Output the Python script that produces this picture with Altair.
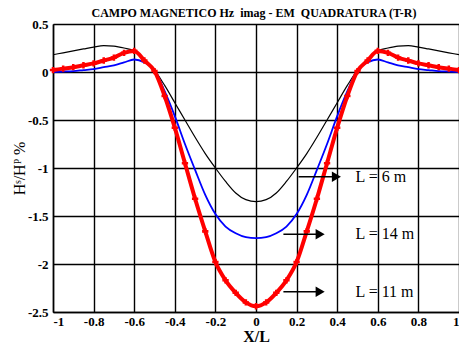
import altair as alt
import pandas as pd

x_vals = [-1.0, -0.95, -0.9, -0.85, -0.8, -0.75, -0.7, -0.65, -0.6, -0.55, -0.5,
          -0.45, -0.4, -0.35, -0.3, -0.25, -0.2, -0.15, -0.1, -0.05, 0.0,
          0.05, 0.1, 0.15, 0.2, 0.25, 0.3, 0.35, 0.4, 0.45, 0.5,
          0.55, 0.6, 0.65, 0.7, 0.75, 0.8, 0.85, 0.9, 0.95, 1.0]

# L = 6 m (black)
l6 = [0.18, 0.20, 0.22, 0.24, 0.26, 0.275, 0.27, 0.25, 0.22, 0.12, 0.02,
      -0.14, -0.32, -0.50, -0.68, -0.85, -1.00, -1.14, -1.26, -1.33, -1.35,
      -1.33, -1.26, -1.14, -1.00, -0.85, -0.68, -0.50, -0.32, -0.14, 0.02,
      0.12, 0.22, 0.25, 0.27, 0.275, 0.26, 0.24, 0.22, 0.20, 0.18]

# L = 14 m (blue)
l14 = [0.0, 0.005, 0.01, 0.02, 0.03, 0.05, 0.07, 0.10, 0.13, 0.10, 0.02,
       -0.20, -0.46, -0.75, -1.02, -1.28, -1.48, -1.61, -1.68, -1.72, -1.73,
       -1.72, -1.68, -1.61, -1.48, -1.28, -1.02, -0.75, -0.46, -0.20, 0.02,
       0.10, 0.13, 0.10, 0.07, 0.05, 0.03, 0.02, 0.01, 0.005, 0.0]

# L = 11 m (red)
l11 = [0.02, 0.035, 0.05, 0.07, 0.09, 0.12, 0.15, 0.20, 0.22, 0.12, 0.01,
       -0.25, -0.58, -0.95, -1.32, -1.66, -1.98, -2.17, -2.30, -2.40, -2.44,
       -2.40, -2.30, -2.17, -1.98, -1.66, -1.32, -0.95, -0.58, -0.25, 0.01,
       0.12, 0.22, 0.20, 0.15, 0.12, 0.09, 0.07, 0.05, 0.035, 0.02]

x_ticks = [-1, -0.8, -0.6, -0.4, -0.2, 0, 0.2, 0.4, 0.6, 0.8, 1]
y_ticks = [-2.5, -2, -1.5, -1, -0.5, 0, 0.5]

labels = ["L = 6 m", "L = 14 m", "L = 11 m"]
label_y = [-1.09, -1.69, -2.29]
arrow_x1 = [0.21, 0.135, 0.135]
arrow_x2 = [0.42, 0.34, 0.34]
label_x = [0.49, 0.49, 0.49]

title_text = "CAMPO MAGNETICO Hz\u00a0 imag - EM\u00a0 QUADRATURA (T-R)"

FONT = "Liberation Serif"

df6 = pd.DataFrame({"x": x_vals, "y": l6})
df14 = pd.DataFrame({"x": x_vals, "y": l14})
df11 = pd.DataFrame({"x": x_vals, "y": l11})

xs = alt.Scale(domain=[-1, 1], nice=False, zero=False)
ys = alt.Scale(domain=[-2.5, 0.5], nice=False, zero=False)

xaxis = alt.Axis(values=x_ticks, labelExpr="'' + datum.value", title="X/L",
                 grid=True, gridColor="black", gridWidth=1.4, gridOpacity=1,
                 ticks=False, domainColor="black", domainWidth=1.5,
                 labelFont=FONT, labelFontSize=13, labelFontWeight="bold",
                 labelColor="black", labelPadding=3,
                 titleFont=FONT, titleFontSize=16, titleFontWeight="bold",
                 titleColor="black", titlePadding=0)
yaxis = alt.Axis(values=y_ticks, labelExpr="'' + datum.value", title="Hˢ/Hᴾ %",
                 grid=True, gridColor="black", gridWidth=1.4, gridOpacity=1,
                 ticks=False, domainColor="black", domainWidth=1.5,
                 labelFont=FONT, labelFontSize=13, labelFontWeight="bold",
                 labelColor="black", labelPadding=5,
                 titleFont=FONT, titleFontSize=16, titleFontWeight="normal",
                 titleColor="black", titlePadding=0)

line6 = alt.Chart(df6).mark_line(color="black", strokeWidth=1.2, interpolate="monotone").encode(
    x=alt.X("x:Q", scale=xs, axis=xaxis), y=alt.Y("y:Q", scale=ys, axis=yaxis))
line14 = alt.Chart(df14).mark_line(color="#0000ff", strokeWidth=1.8, interpolate="monotone").encode(
    x=alt.X("x:Q", scale=xs), y=alt.Y("y:Q", scale=ys))
line11 = alt.Chart(df11).mark_line(color="#ff0000", strokeWidth=4, interpolate="monotone").encode(
    x=alt.X("x:Q", scale=xs), y=alt.Y("y:Q", scale=ys))
pts11 = alt.Chart(df11).mark_point(shape="cross", filled=True, color="#ff0000", size=40, opacity=1).encode(
    x=alt.X("x:Q", scale=xs), y=alt.Y("y:Q", scale=ys))

ann = pd.DataFrame({"label": labels, "y": label_y, "x1": arrow_x1, "x2": arrow_x2, "tx": label_x})
ann["hx"] = ann["x2"] - 0.024

rules = alt.Chart(ann).mark_rule(color="black", strokeWidth=1.5).encode(
    x=alt.X("x1:Q", scale=xs), x2="hx:Q", y=alt.Y("y:Q", scale=ys))
heads = alt.Chart(ann).mark_point(shape="triangle-right", filled=True, color="black", size=110, opacity=1).encode(
    x=alt.X("hx:Q", scale=xs), y=alt.Y("y:Q", scale=ys))
texts = alt.Chart(ann).mark_text(align="left", baseline="middle", font=FONT, fontSize=16, color="black").encode(
    x=alt.X("tx:Q", scale=xs), y=alt.Y("y:Q", scale=ys), text="label:N")

title_mark = alt.Chart(pd.DataFrame({"t": [title_text]})).mark_text(
    align="center", baseline="bottom", font=FONT, fontSize=12, fontWeight="bold", color="black"
).encode(x=alt.value(201), y=alt.value(-4), text="t:N")

chart = alt.layer(line6, line14, line11, pts11, rules, heads, texts, title_mark).properties(
    width=406, height=288,
    autosize=alt.AutoSizeParams(type="none"),
    padding={"left": 45, "top": 16, "right": 0, "bottom": 31},
).configure_view(stroke=None).configure(background="white")

chart.save("out.html", embed_options={"renderer": "svg", "actions": False})
